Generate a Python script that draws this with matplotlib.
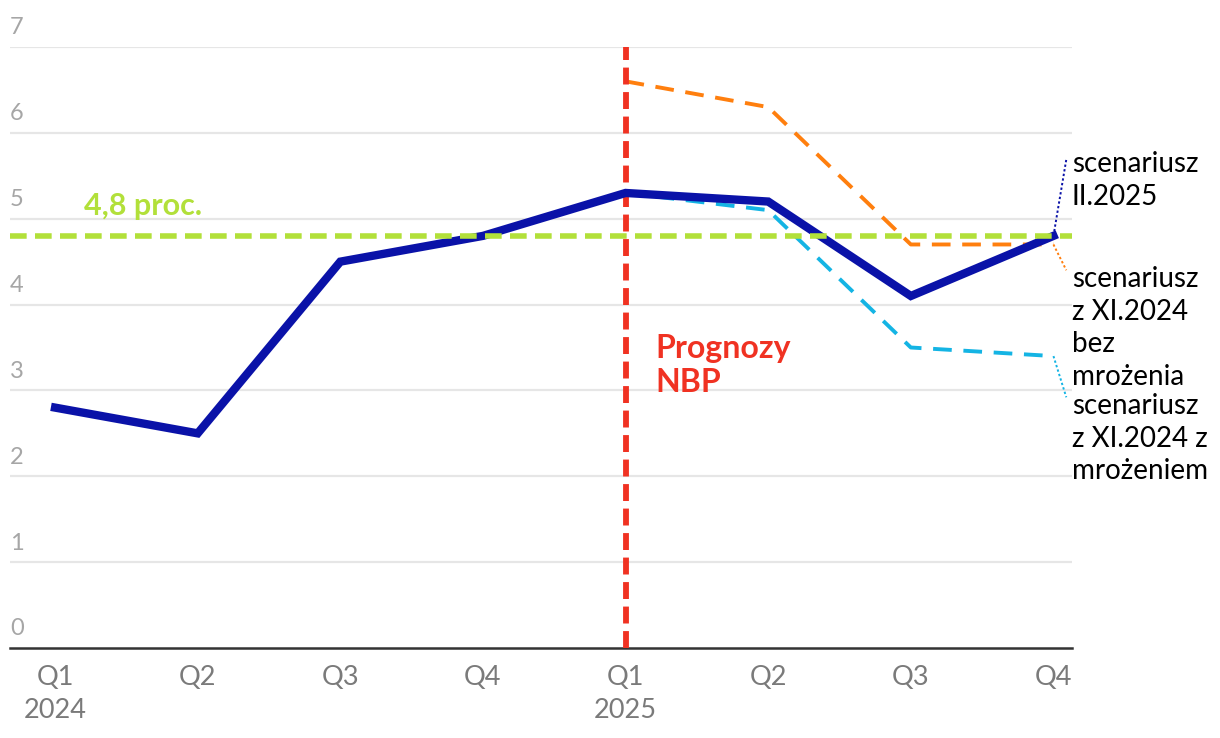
import matplotlib
matplotlib.use("Agg")
import matplotlib.pyplot as plt

plt.rcParams['font.family'] = ['Lato', 'DejaVu Sans']

quarters = ["Q1\n2024", "Q2", "Q3", "Q4", "Q1\n2025", "Q2", "Q3", "Q4"]
actual = [2.8, 2.5, 4.5, 4.8, 5.3, 5.2, 4.1, 4.8]          # scenariusz II.2025
bez_mrozenia = [None, None, None, None, 6.6, 6.3, 4.7, 4.7]  # XI.2024 bez mrożenia
z_mrozeniem = [None, None, None, None, 5.3, 5.1, 3.5, 3.4]   # XI.2024 z mrożeniem
target = 4.8
yticks = [0, 1, 2, 3, 4, 5, 6, 7]

NAVY = '#0a12a8'
ORANGE = '#ff7f0e'
CYAN = '#14b4e4'
GREEN = '#b2e03a'
RED = '#f03222'

fig = plt.figure(figsize=(12.2, 7.38), dpi=100)
ax = fig.add_axes([10/1220, 1-648/738, (1072-10)/1220, 601/738])

x = list(range(len(quarters)))
ax.set_xlim(-0.316, 7.13)
ax.set_ylim(0, 7)

# grid
for v in yticks[1:]:
    ax.axhline(v, color='#e6e6e6', lw=1.6, zorder=1)
for v in yticks:
    ax.text(0.0, v + 0.1, str(v), transform=ax.get_yaxis_transform(),
            ha='left', va='bottom', fontsize=17, color='#a6a6a6')

for s in ['top', 'right', 'left']:
    ax.spines[s].set_visible(False)
ax.spines['bottom'].set_color('#333333')
ax.spines['bottom'].set_linewidth(1.8)
ax.set_yticks([])
ax.set_xticks(x)
ax.set_xticklabels(quarters, fontsize=19.5, color='#7a7a7a', linespacing=1.4)
ax.tick_params(axis='x', length=0, pad=12)

fx = [i for i, v in enumerate(bez_mrozenia) if v is not None]
ax.plot(fx, [bez_mrozenia[i] for i in fx], color=ORANGE, lw=2.8,
        dashes=(4.8, 3.0), zorder=3)
fx2 = [i for i, v in enumerate(z_mrozeniem) if v is not None]
ax.plot(fx2, [z_mrozeniem[i] for i in fx2], color=CYAN, lw=2.8,
        dashes=(4.8, 3.0), zorder=3)

ax.axvline(4, color=RED, lw=4.2, dashes=(2.9, 1.3), zorder=4)
ax.plot(x, actual, color=NAVY, lw=6, solid_joinstyle='miter', zorder=5)
ax.axhline(target, color=GREEN, lw=4.0, dashes=(3.0, 1.5), zorder=6)

ax.text(0.2, 4.99, "4,8 proc.", color=GREEN, fontsize=22, fontweight='bold',
        ha='left', va='bottom')
ax.text(4.21, 3.66, "Prognozy\nNBP", color=RED, fontsize=23, fontweight='bold',
        ha='left', va='top', linespacing=1.2)

# right-side leader lines and labels
leaders = [
    (actual[7], 5.69, NAVY, "scenariusz\nII.2025", 5.79),
    (bez_mrozenia[7], 4.4, ORANGE, "scenariusz\nz XI.2024\nbez\nmrożenia", 4.45),
    (z_mrozeniem[7], 2.92, CYAN, "scenariusz\nz XI.2024 z\nmrożeniem", 2.97),
]
for yv, yend, col, label, ytxt in leaders:
    ax.plot([7, 7.09], [yv, yend], color=col, lw=1.4, linestyle=(0, (1.2, 1.2)),
            clip_on=False, zorder=7)
    ax.text(7.13, ytxt, label, color='black', fontsize=20, ha='left', va='top',
            linespacing=1.32, clip_on=False)

fig.savefig("out.png", dpi=100)
